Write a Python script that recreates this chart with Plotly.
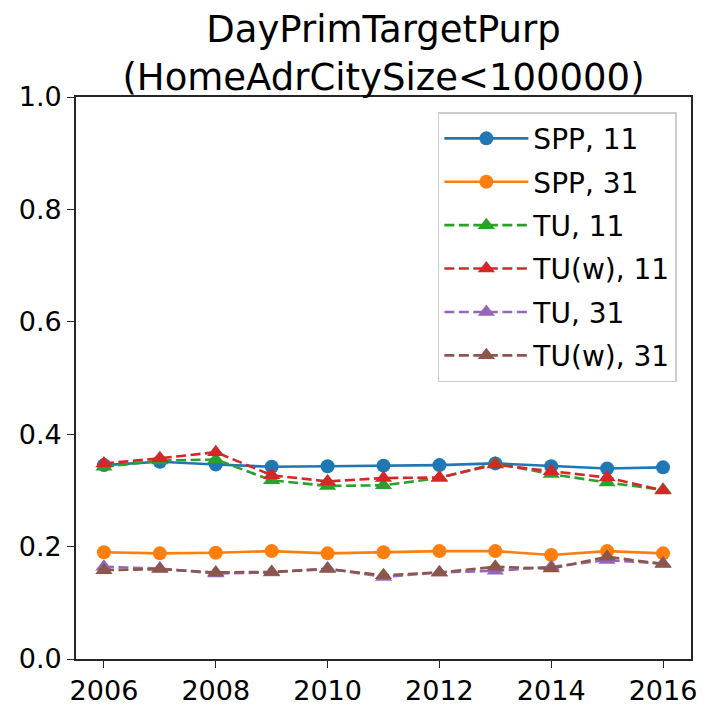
import plotly.graph_objects as go

# survey years
years = [2006, 2007, 2008, 2009, 2010, 2011, 2012, 2013, 2014, 2015, 2016]

# shares
spp_11 = [0.345, 0.351, 0.346, 0.342, 0.343, 0.344, 0.345, 0.348, 0.343, 0.339, 0.341]
spp_31 = [0.190, 0.188, 0.189, 0.192, 0.188, 0.190, 0.192, 0.192, 0.185, 0.192, 0.188]
tu_11 = [0.342, 0.353, 0.355, 0.318, 0.308, 0.309, 0.322, 0.348, 0.329, 0.314, 0.301]
tuw_11 = [0.348, 0.357, 0.368, 0.327, 0.316, 0.322, 0.323, 0.346, 0.334, 0.323, 0.300]
tu_31 = [0.164, 0.161, 0.152, 0.154, 0.161, 0.146, 0.154, 0.157, 0.164, 0.176, 0.170]
tuw_31 = [0.158, 0.160, 0.154, 0.155, 0.160, 0.149, 0.154, 0.164, 0.161, 0.182, 0.169]

series = [
    ("SPP, 11", spp_11, "#1f77b4", "solid", "circle"),
    ("SPP, 31", spp_31, "#ff7f0e", "solid", "circle"),
    ("TU, 11", tu_11, "#2ca02c", "10px,4.5px", "triangle-up"),
    ("TU(w), 11", tuw_11, "#d62728", "10px,4.5px", "triangle-up"),
    ("TU, 31", tu_31, "#9467bd", "10px,4.5px", "triangle-up"),
    ("TU(w), 31", tuw_31, "#8c564b", "10px,4.5px", "triangle-up"),
]

fig = go.Figure()
for i, (name, vals, color, dash, symbol) in enumerate(series):
    fig.add_trace(go.Scatter(
        x=years, y=vals, name=name, mode="lines+markers",
        legendgroup="g%d" % i,
        line=dict(color=color, width=2.6, dash=dash),
        marker=dict(color=color, symbol=symbol, size=14 if symbol == "circle" else 15),
    ))

# the page body adds an 8px offset, so margins are trimmed by 8 on top/left
font = "DejaVu Sans"
fig.update_layout(
    width=715, height=717,
    margin=dict(l=68, r=32, t=89, b=66, autoexpand=False),
    paper_bgcolor="white", plot_bgcolor="white",
    font=dict(family=font, size=27, color="black"),
    title=dict(
        text="DayPrimTargetPurp<br>(HomeAdrCitySize<100000)",
        x=0.5, xref="paper", xanchor="center",
        y=1 - 34 / 717, yref="container", yanchor="top",
        automargin=False,
        font=dict(family=font, size=37, color="black"),
    ),
    legend=dict(
        x=0.977, y=0.973, xanchor="right", yanchor="top",
        bordercolor="#cccccc", borderwidth=1.5, bgcolor="white",
        font=dict(family=font, size=28, color="black"),
        traceorder="grouped", tracegroupgap=4, itemwidth=84,
    ),
    showlegend=True,
)
fig.update_xaxes(
    range=[2005.5, 2016.5], tickvals=[2006, 2008, 2010, 2012, 2014, 2016],
    showgrid=False, zeroline=False, showline=True, mirror=True, automargin=False,
    linecolor="#262626", linewidth=1.6,
    ticks="outside", ticklen=7, tickwidth=1.4, tickcolor="#262626",
)
fig.update_yaxes(
    range=[0, 1], tickvals=[0, 0.2, 0.4, 0.6, 0.8, 1.0], tickformat=".1f",
    showgrid=False, zeroline=False, showline=True, mirror=True, automargin=False,
    linecolor="#262626", linewidth=1.6,
    ticks="outside", ticklen=7, tickwidth=1.4, tickcolor="#262626",
)

fig.write_html("out.html")
